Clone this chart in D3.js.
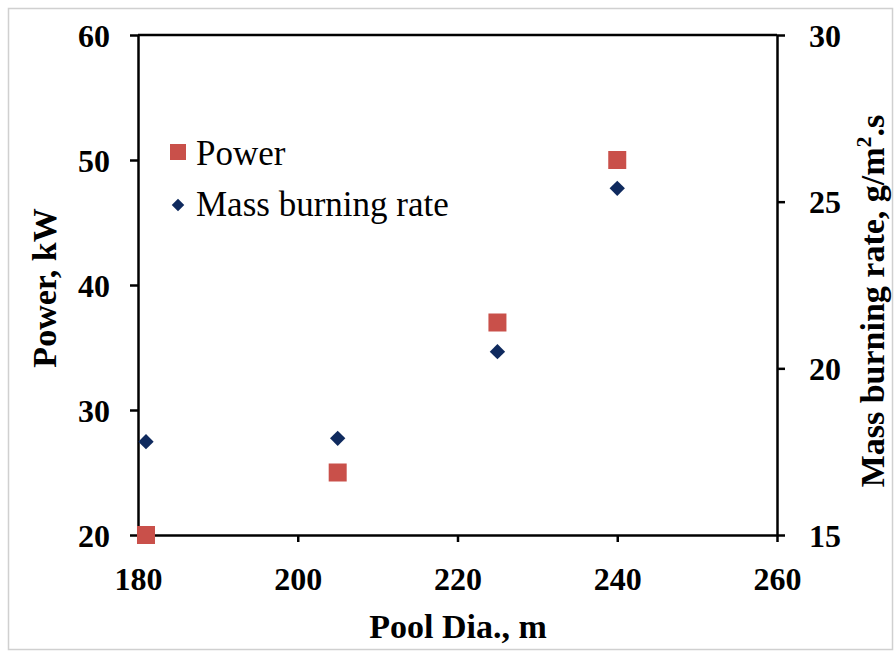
<!DOCTYPE html>
<html>
<head>
<meta charset="utf-8">
<style>
body { margin: 0; background: #fff; }
text { font-family: "Liberation Serif", "Times New Roman", serif; fill: #000; }
.tick text { font-weight: bold; font-size: 32px; }
.axis-title { font-weight: bold; font-size: 34px; }
.legend text { font-size: 35px; }
</style>
</head>
<body>
<script src="https://cdn.jsdelivr.net/npm/d3@7"></script>
<script>

// data
var poolDia = [181, 205, 225, 240];
var power = [20, 25, 37, 50];
var massRate = [17.8, 17.9, 20.5, 25.4];

var xTicks = [180, 200, 220, 240, 260];
var powerTicks = [20, 30, 40, 50, 60];
var rateTicks = [15, 20, 25, 30];

var width = 894, height = 657;
var plotL = 138, plotR = 777, plotT = 35, plotB = 535;

var svg = d3.select("body").append("svg")
    .attr("width", width)
    .attr("height", height);

// outer frame
svg.append("rect")
    .attr("x", 8.5).attr("y", 8.5)
    .attr("width", 884).attr("height", 641)
    .attr("fill", "none")
    .attr("stroke", "#d0d0d0")
    .attr("stroke-width", 1.5);

var x = d3.scaleLinear().domain([180, 260]).range([plotL, plotR]);
var yP = d3.scaleLinear().domain([20, 60]).range([plotB, plotT]);
var yM = d3.scaleLinear().domain([15, 30]).range([plotB, plotT]);

// top line of the plot box
svg.append("line")
    .attr("x1", plotL).attr("x2", plotR)
    .attr("y1", plotT).attr("y2", plotT)
    .attr("stroke", "#000").attr("stroke-width", 2.5);

var xAxis = svg.append("g")
    .attr("transform", "translate(0," + plotB + ")")
    .call(d3.axisBottom(x).tickValues(xTicks).tickSize(7).tickPadding(24).tickSizeOuter(0));

var yAxisL = svg.append("g")
    .attr("transform", "translate(" + plotL + ",0)")
    .call(d3.axisLeft(yP).tickValues(powerTicks).tickSize(8).tickPadding(20).tickSizeOuter(0));

var yAxisR = svg.append("g")
    .attr("transform", "translate(" + plotR + ",0)")
    .call(d3.axisRight(yM).tickValues(rateTicks).tickSize(8).tickPadding(24).tickSizeOuter(0));

[xAxis, yAxisL, yAxisR].forEach(function(g) {
  g.attr("font-family", null).attr("font-size", null);
  g.selectAll(".domain").attr("stroke", "#000").attr("stroke-width", 2.5);
  g.selectAll(".tick line").attr("stroke", "#000").attr("stroke-width", 2.5);
});
xAxis.selectAll(".tick text").attr("dy", "0.75em");
yAxisL.selectAll(".tick text").attr("dy", "0.35em");
yAxisR.selectAll(".tick text").attr("dy", "0.35em");

// axis titles
svg.append("text")
    .attr("class", "axis-title")
    .attr("x", 458).attr("y", 638)
    .attr("text-anchor", "middle")
    .text("Pool Dia., m");

svg.append("text")
    .attr("class", "axis-title")
    .attr("transform", "translate(56,288) rotate(-90)")
    .attr("text-anchor", "middle")
    .text("Power, kW");

var rt = svg.append("text")
    .attr("class", "axis-title")
    .attr("transform", "translate(884,301) rotate(-90)")
    .attr("text-anchor", "middle");
rt.append("tspan").text("Mass burning rate, g/m");
rt.append("tspan").attr("dy", -13).attr("font-size", "22px").text("2");
rt.append("tspan").attr("dy", 13).text(".s");

// series
var pts = poolDia.map(function(d, i) { return {x: d, p: power[i], m: massRate[i]}; });

var sq = 18;
svg.append("g").selectAll("rect")
    .data(pts)
    .enter().append("rect")
    .attr("x", function(d) { return x(d.x) - sq / 2; })
    .attr("y", function(d) { return yP(d.p) - sq / 2; })
    .attr("width", sq).attr("height", sq)
    .attr("fill", "#c9504a");

var diamond = d3.symbol().type(d3.symbolDiamond2).size(150);
svg.append("g").selectAll("path")
    .data(pts)
    .enter().append("path")
    .attr("d", diamond)
    .attr("transform", function(d) { return "translate(" + x(d.x) + "," + yM(d.m) + ")"; })
    .attr("fill", "#0f2a5e");

// legend
var legend = svg.append("g").attr("class", "legend");
legend.append("rect")
    .attr("x", 170).attr("y", 144).attr("width", 16).attr("height", 16)
    .attr("fill", "#c9504a");
legend.append("text").attr("x", 196).attr("y", 165).text("Power");
legend.append("path")
    .attr("d", d3.symbol().type(d3.symbolDiamond2).size(100))
    .attr("transform", "translate(178,205)")
    .attr("fill", "#0f2a5e");
legend.append("text").attr("x", 196).attr("y", 216).text("Mass burning rate");

</script>
</body>
</html>
